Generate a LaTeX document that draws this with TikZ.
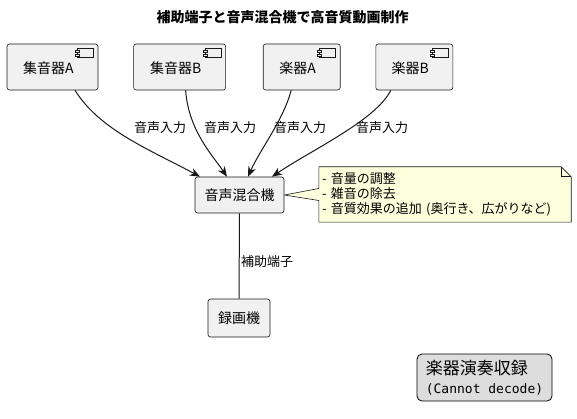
\documentclass[tikz,border=0pt]{standalone}
\usepackage{fontspec}
\setmainfont{Noto Sans CJK JP}
\setmonofont{DejaVu Sans Mono}
\usepackage{xcolor}
\usetikzlibrary{positioning, arrows.meta}
\pgfdeclarelayer{background}
\pgfsetlayers{background,main}
\definecolor{boxfill}{HTML}{F1F1F1}
\definecolor{boxline}{HTML}{181818}
\definecolor{notefill}{HTML}{FEFFDD}
\definecolor{legfill}{HTML}{DDDDDD}

\begin{document}
\begin{tikzpicture}[x=1pt, y=-1pt]
% Définition des styles
    \tikzstyle{comp} = [rectangle, draw=boxline, line width=0.6pt, fill=boxfill, rounded corners=2.5pt, minimum height=46pt, inner sep=0pt, font=\fontsize{14}{16}\selectfont, text height=17pt, text depth=3pt]
    \tikzstyle{block} = [rectangle, draw=boxline, line width=0.6pt, fill=boxfill, rounded corners=2.5pt, inner sep=0pt, font=\fontsize{14}{16}\selectfont]
    \tikzstyle{notetext} = [text width=246pt, inner xsep=3pt, inner ysep=0pt, minimum height=55pt, align=left, font=\fontsize{13}{15}\selectfont]
    \tikzstyle{notebox} = [draw=boxline, line width=0.6pt, fill=notefill, line join=round]
    \tikzstyle{legend} = [rectangle, draw=black, line width=0.8pt, fill=legfill, rounded corners=5pt, minimum width=135pt, minimum height=47pt, inner xsep=4pt, align=left, font=\fontsize{13}{19}\selectfont]
    \tikzstyle{lbl} = [font=\fontsize{13}{15}\selectfont, inner sep=0pt]
    \tikzstyle{line} = [draw=boxline, line width=1pt, -{Stealth[length=10pt, width=8pt, inset=3pt]}]
    \tikzstyle{plain} = [draw=boxline, line width=1pt]

    \useasboundingbox (0,0) rectangle (577,419);

    % Titre
    \node [font=\fontsize{14}{16}\selectfont\bfseries] (title) at (282.5,17) {補助端子と音声混合機で高音質動画制作};

    % Composants d'entrée
    \node [comp, minimum width=91pt] (mica) at (52.5,67) {集音器A\hspace*{8pt}};
    \node [comp, minimum width=92pt, right=35pt of mica] (micb) {集音器B\hspace*{8pt}};
    \node [comp, minimum width=77pt, right=37pt of micb] (insta) {楽器A\hspace*{8pt}};
    \node [comp, minimum width=77pt, right=35pt of insta] (instb) {楽器B\hspace*{8pt}};

    % Icônes de composant
    \foreach \c in {mica, micb, insta, instb} {
        \draw [boxline, line width=0.6pt] ([shift={(-21,5)}]\c.north east) rectangle ([shift={(-5,14)}]\c.north east);
        \draw [boxline, line width=0.6pt, fill=boxfill] ([shift={(-23,7)}]\c.north east) rectangle ([shift={(-19,9)}]\c.north east);
        \draw [boxline, line width=0.6pt, fill=boxfill] ([shift={(-23,11)}]\c.north east) rectangle ([shift={(-19,13)}]\c.north east);
    }

    % Mélangeur et enregistreur
    \node [block, minimum width=89pt, minimum height=36pt] (mix) at (239.5,195) {音声混合機};
    \node [block, minimum width=62pt, minimum height=38pt] (rec) at (239,318) {録画機};

    % Note
    \node [notetext] (note) at (445,194.5) {- 音量の調整\\- 雑音の除去\\- 音質効果の追加 (奥行き、広がりなど)};
    \begin{pgfonlayer}{background}
    \path [notebox] (note.north west) -- ([xshift=-10pt]note.north east) -- ([yshift=-10pt]note.north east) -- (note.south east) -- (note.south west) -- ([yshift=-6pt]note.west) -- (mix.east) -- ([yshift=6pt]note.west) -- cycle;
    \end{pgfonlayer}
    \draw [boxline, line width=0.6pt] ([xshift=-10pt]note.north east) -- ([xshift=-10pt, yshift=-10pt]note.north east) -- ([yshift=-10pt]note.north east);

    % Légende
    \node [legend] (leg) at (484.5,377.5) {{\fontsize{17}{19}\selectfont 楽器演奏収録}\\{\ttfamily\fontsize{13}{15}\selectfont (Cannot decode)}};

    % Connexions
    \path [line] ([xshift=22.5pt]mica.south) .. controls +(25,40) and +(-50,-27) .. ([xshift=-39.5pt]mix.north);
    \path [line] ([xshift=6pt]micb.south) .. controls +(3,40) and +(-15,-22) .. ([xshift=-12.5pt]mix.north);
    \path [line] ([xshift=-10.5pt]insta.south) .. controls +(-8,30) and +(12,-27) .. ([xshift=8.5pt]mix.north);
    \path [line] ([xshift=-23.5pt]instb.south) .. controls +(-15,30) and +(40,-27) .. ([xshift=32.5pt]mix.north);
    \node [lbl] (lbla) at (160,128) {音声入力};
    \node [lbl] (lblb) at (230,128) {音声入力};
    \node [lbl] (lblc) at (300,128) {音声入力};
    \node [lbl] (lbld) at (382,128) {音声入力};
    \path [plain] (mix) -- node [lbl, right, pos=0.57, inner xsep=1.5pt] (aux) {補助端子} (rec);
\end{tikzpicture}
\end{document}
